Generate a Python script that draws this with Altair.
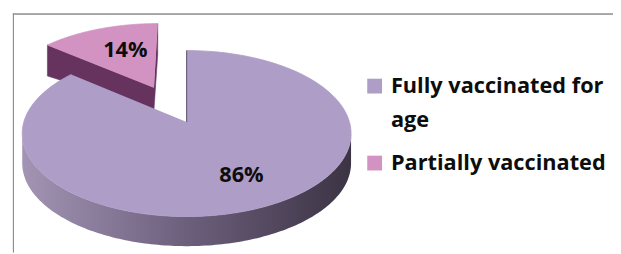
import textwrap
import numpy as np
import pandas as pd
import altair as alt

# ---- data ----
categories = ["Fully vaccinated for age", "Partially vaccinated"]
shares = [86, 14]
exploded = [0.0, 0.5]
top_colors = ["#ae9dc6", "#d293c2"]
side_colors = ["#66335f", "#66335f"]
main_side_stops = ["#a394b4", "#6c5f7c", "#3c3344"]

# ---- layout (page pixels) ----
W, H = 613, 246
OX, OY = 8, 8
CX, CY = 189, 122
RX, RY = 165, 82.5
PERSP = 0.1377
DEPTH = 30
NPTS = 160
FONT = "Open Sans"


def proj(X, Z, drop=0.0):
    w = 1 - PERSP * Z
    return CX + RX * X / w, CY + RY * Z / w + drop


def ground(theta, r, off):
    t = np.radians(theta)
    return off[0] + r * np.sin(t), off[1] - r * np.cos(t)


total = float(sum(shares))
starts = np.concatenate([[0.0], np.cumsum(shares)[:-1]]) / total * 360
ends = np.cumsum(shares) / total * 360

rows = []
polys = []
label_rows = []
edge_rows = []
theta_s = np.degrees(np.arccos(-PERSP))  # silhouette angle

for i, cat in enumerate(categories):
    a0, a1 = starts[i], ends[i]
    mid = (a0 + a1) / 2
    off = ground(mid, exploded[i], (0.0, 0.0))
    vx, vy = proj(*off)
    # outer side (front arc)
    lo, hi = max(a0, theta_s), min(a1, 360 - theta_s)
    if hi > lo:
        th = np.linspace(lo, hi, NPTS)
        pts = [proj(*ground(t, 1, off)) for t in th]
        ring = pts + [(x, y + DEPTH) for x, y in pts[::-1]]
        name = f"side{i}"
        for k, (x, y) in enumerate(ring):
            rows.append({"poly": name, "ord": k, "x": x, "y": y})
        polys.append((i, 0, name, "outer"))
    # radial faces
    ix, iy = proj(*ground(mid, 0.5, off))
    for j, ang in enumerate([a0, a1]):
        px, py = proj(*ground(ang, 1, off))
        dx, dy = px - vx, py - vy
        c_drop = dx * 1.0
        c_int = dx * (iy - vy) - dy * (ix - vx)
        if abs(c_drop) > 2 and np.sign(c_drop) != np.sign(c_int):
            name = f"rad{i}_{j}"
            ring = [(vx, vy), (px, py), (px, py + DEPTH * 1.05), (vx, vy + DEPTH * 0.75)]
            for k, (x, y) in enumerate(ring):
                rows.append({"poly": name, "ord": k, "x": x, "y": y})
            polys.append((i, 1, name, "radial"))
        elif abs(c_drop) <= 2 and exploded[i] == 0:
            edge_rows.append({"e": f"e{i}_{j}", "ord": 0, "x": vx, "y": vy})
            edge_rows.append({"e": f"e{i}_{j}", "ord": 1, "x": px, "y": py})
    # top face
    th = np.linspace(a0, a1, NPTS)
    ring = [(vx, vy)] + [proj(*ground(t, 1, off)) for t in th]
    name = f"top{i}"
    for k, (x, y) in enumerate(ring):
        rows.append({"poly": name, "ord": k, "x": x, "y": y})
    polys.append((i, 2, name, "top"))
    # label
    lr = 0.66 if exploded[i] == 0 else 0.62
    lx, ly = proj(*ground(mid, lr, off))
    lx += 5 if exploded[i] == 0 else 7
    label_rows.append({"x": lx, "y": ly, "text": f"{shares[i]}%"})

df = pd.DataFrame(rows)
labels_df = pd.DataFrame(label_rows)
edges_df = pd.DataFrame(edge_rows)

xs = alt.Scale(domain=[OX, OX + W], range=[0, W])
ys = alt.Scale(domain=[OY, OY + H], range=[0, H])
X_ENC = alt.X("x:Q", scale=xs, axis=None)
Y_ENC = alt.Y("y:Q", scale=ys, axis=None)

order_slices = sorted(range(len(categories)), key=lambda i: -exploded[i])
layers = []
gradient = alt.Gradient(
    gradient="linear",
    x1=0, x2=1, y1=0, y2=0,
    stops=[alt.GradientStop(color=c, offset=o)
           for c, o in zip(main_side_stops, [0, 0.5, 1])],
)
for i in order_slices:
    for (si, kind_rank, name, kind) in sorted([p for p in polys if p[0] == i], key=lambda p: p[1]):
        base = alt.Chart(df).transform_filter(alt.datum.poly == name)
        if kind == "outer":
            mk = base.mark_line(fill=gradient, strokeOpacity=0, interpolate="linear")
        elif kind == "radial":
            mk = base.mark_line(fill=side_colors[i], stroke=side_colors[i],
                                strokeWidth=0.5, interpolate="linear")
        else:
            mk = base.mark_line(fill=top_colors[i], stroke=top_colors[i],
                                strokeWidth=0.8, interpolate="linear")
        layers.append(mk.encode(x=X_ENC, y=Y_ENC, order="ord:Q"))

edge_layer = alt.Chart(edges_df).mark_line(stroke="#6e627e", strokeWidth=1.2).encode(
    x=X_ENC, y=Y_ENC, order="ord:Q", detail="e:N")

text_layer = alt.Chart(labels_df).mark_text(
    font=FONT, fontWeight="bold", fontSize=22, color="#0d0d0d",
    align="center", baseline="middle",
).encode(x=X_ENC, y=Y_ENC, text="text:N")

# legend
LEG_X, LEG_TEXT_X, LEG_Y0, LINE_H, GAP = 379.5, 396, 93, 34, 10
leg_rows = []
yb = LEG_Y0
for i, cat in enumerate(categories):
    lines = textwrap.wrap(cat, width=20)
    leg_rows.append({"cat": cat, "label": "\n".join(lines), "y": yb, "sy": yb - 7.5,
                     "sx": LEG_X, "tx": LEG_TEXT_X})
    yb += len(lines) * LINE_H + GAP
leg_df = pd.DataFrame(leg_rows)

swatch = alt.Chart(leg_df).mark_square(size=225, opacity=1).encode(
    x=alt.X("sx:Q", scale=xs, axis=None),
    y=alt.Y("sy:Q", scale=ys, axis=None),
    color=alt.Color("cat:N", scale=alt.Scale(domain=categories, range=top_colors), legend=None),
)
leg_text = alt.Chart(leg_df).mark_text(
    font=FONT, fontWeight="bold", fontSize=22, color="#0d0d0d",
    align="left", baseline="alphabetic", lineBreak="\n", lineHeight=LINE_H,
).encode(
    x=alt.X("tx:Q", scale=xs, axis=None),
    y=alt.Y("y:Q", scale=ys, axis=None),
    text="label:N",
)

frame_top = alt.Chart(leg_df).mark_rule(color="#8c8c8c", strokeWidth=1).encode(
    x=alt.value(13 - OX), x2=alt.value(W), y=alt.value(12.5 - OY))
frame_left = alt.Chart(leg_df).mark_rule(color="#8c8c8c", strokeWidth=1).encode(
    x=alt.value(13.5 - OX), y=alt.value(12 - OY), y2=alt.value(H))

chart = alt.layer(frame_top, frame_left, *layers, edge_layer, text_layer, swatch, leg_text).properties(
    width=W, height=H, padding=0, autosize=alt.AutoSizeParams(type="none"),
).configure_view(strokeWidth=0)

chart.save("out.html", embed_options={"renderer": "svg", "actions": False})
